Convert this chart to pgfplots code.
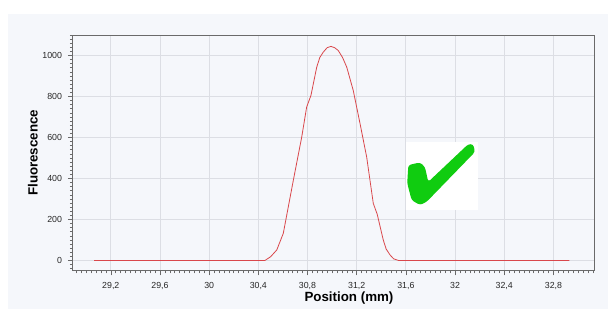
\documentclass[border=0pt]{standalone}
\usepackage{pgfplots}
\pgfplotsset{compat=1.18}
\usepackage{fontspec}
\setmainfont{Liberation Sans}
\definecolor{panel}{HTML}{F5F7FB}
\definecolor{gridc}{HTML}{DCDEE4}
\definecolor{framec}{HTML}{6A6A6A}
\definecolor{curve}{HTML}{D9474B}
\definecolor{checkg}{HTML}{10CC10}
\begin{document}
\begin{tikzpicture}
\fill[white] (0pt,0pt) rectangle (456pt,-231.75pt);
\fill[panel] (6pt,-10.5pt) rectangle (456pt,-231.75pt);
\begin{axis}[
  at={(54.5pt,-203.0pt)}, anchor=south west,
  scale only axis, width=391pt, height=176.8pt,
  xmin=28.89, xmax=33.13, ymin=-50, ymax=1100,
  xtick={28.8,29.2,...,33.2}, ytick={-200,0,200,...,1200},
  minor x tick num=9, minor y tick num=9,
  tick align=outside, xtick pos=bottom, ytick pos=left,
  major tick length=3.5pt, minor tick length=2pt,
  every tick/.style={framec, line width=0.4pt},
  axis line style={framec, line width=0.6pt},
  xmajorgrids, ymajorgrids,
  major grid style={gridc, line width=0.6pt},
  axis background/.style={fill=panel},
  /pgf/number format/assume math mode=true,
  /pgf/number format/use comma, /pgf/number format/1000 sep={},
  ticklabel style={font=\fontsize{6.6}{7}\selectfont, text=black!85},
  xticklabel style={yshift=-1.5pt},
  yticklabel style={xshift=-1pt},
  xlabel={\bfseries Position (mm)},
  ylabel={\bfseries Fluorescence},
  xlabel style={font=\fontsize{10}{11}\selectfont, at={(axis description cs:0.53,0)}, anchor=center, yshift=-20.5pt},
  ylabel style={font=\fontsize{10}{11}\selectfont, at={(axis description cs:-0.0762,0.5)}, anchor=center},
  clip=false,
]
\addplot[curve, line width=0.6pt] coordinates {
(29.065,0) (30.0,0) (30.454,0) (30.50,18) (30.55,51) (30.603,132) (30.685,392) (30.753,602)
(30.793,748) (30.828,805) (30.875,943) (30.90,990) (30.928,1016) (30.96,1038) (30.991,1044) (31.02,1038) (31.050,1024)
(31.085,990) (31.119,943) (31.172,829) (31.227,668) (31.281,505) (31.335,278) (31.367,225)
(31.416,100) (31.44,55) (31.471,27) (31.50,8) (31.538,0) (32.0,0) (32.93,0)
};
\fill[white] (axis cs:31.60,246) rectangle (axis cs:32.186,577);
\fill[checkg, rounded corners=2pt] (axis cs:31.620,465) -- (axis cs:31.715,478) -- (axis cs:31.755,456)
 -- (axis cs:31.782,383) -- (axis cs:32.107,567) -- (axis cs:32.148,567) -- (axis cs:32.162,529)
 -- (axis cs:31.769,286) -- (axis cs:31.715,270) -- (axis cs:31.647,294) -- (axis cs:31.611,376) -- cycle;
\end{axis}
\end{tikzpicture}
\end{document}
